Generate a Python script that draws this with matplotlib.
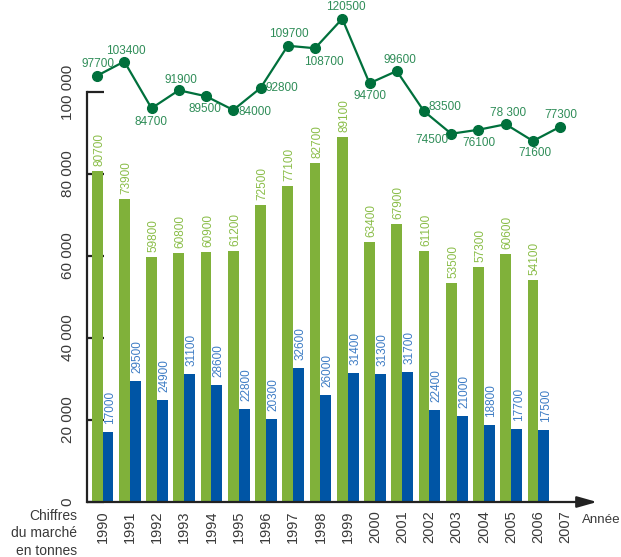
import matplotlib.pyplot as plt
import numpy as np

# values
years = [str(y) for y in range(1990, 2008)]
green_vals = [80700, 73900, 59800, 60800, 60900, 61200, 72500, 77100, 82700,
              89100, 63400, 67900, 61100, 53500, 57300, 60600, 54100]
blue_vals = [17000, 29500, 24900, 31100, 28600, 22800, 20300, 32600, 26000,
             31400, 31300, 31700, 22400, 21000, 18800, 17700, 17500]
total_vals = [97700, 103400, 84700, 91900, 89500, 84000, 92800, 109700, 108700,
              120500, 94700, 99600, 83500, 74500, 76100, 78300, 71600, 77300]
total_labels = ["97700", "103400", "84700", "91900", "89500", "84000", "92800",
                "109700", "108700", "120500", "94700", "99600", "83500",
                "74500", "76100", "78 300", "71600", "77300"]
y_ticks = [0, 20000, 40000, 60000, 80000, 100000]
y_tick_labels = ["0", "20 000", "40 000", "60 000", "80 000", "100 000"]

# label offsets for the total line (pixels)
total_offsets = [(1, 12), (2, 11), (-1, -14), (2, 10), (-1, -13), (22, -2),
                 (21, 0), (1, 12), (9, -14), (4, 12), (0, -13), (3, 11),
                 (21, 4), (-19, -6), (0, -13), (2, 11), (2, -12), (1, 12)]

GREEN = "#80b13a"
BLUE = "#0055a5"
DARK_GREEN = "#00703c"
GREEN_TXT = "#8abd48"
BLUE_TXT = "#3d7cc4"
LINE_TXT = "#2f8d58"
GREY = "#3a3a3a"

REG = ["Liberation Sans", "DejaVu Sans"]
NUM = ["Liberation Sans", "DejaVu Sans"]

fig = plt.figure(figsize=(6.21, 5.57), dpi=100)
ax = fig.add_axes([87 / 621, 55 / 557, 510 / 621, 492 / 557])

x = np.arange(len(years))
xb = np.arange(len(green_vals))
w = 0.4

ax.bar(xb - w / 2, green_vals, width=w, color=GREEN, zorder=2)
ax.bar(xb + w / 2, blue_vals, width=w, color=BLUE, zorder=2)

for i in xb:
    ax.annotate(str(green_vals[i]), (i - w / 2, green_vals[i]),
                xytext=(2, 5), textcoords="offset pixels", rotation=90,
                ha="center", va="bottom", color=GREEN_TXT, fontsize=8.5,
                family=NUM)
    ax.annotate(str(blue_vals[i]), (i + w / 2, blue_vals[i]),
                xytext=(2, 8), textcoords="offset pixels", rotation=90,
                ha="center", va="bottom", color=BLUE_TXT, fontsize=8.5,
                family=NUM)

ax.set_xlim(-0.569, 18.15)
ax.set_ylim(0, 120000)

for s in ["top", "right", "bottom"]:
    ax.spines[s].set_visible(False)
ax.spines["left"].set_bounds(0, 100000)
ax.spines["left"].set_linewidth(1.6)
ax.spines["left"].set_color("#222222")

ax.set_yticks(y_ticks)
ax.set_yticklabels(y_tick_labels, rotation=90, va="center", fontsize=11,
                   family=REG, color=GREY)
ax.tick_params(axis="y", direction="in", length=12, width=1.6,
               color="#222222", pad=9)

ax.set_xticks(x)
ax.set_xticklabels(years, rotation=90, fontsize=10.5, family=REG, color=GREY)
ax.tick_params(axis="x", length=0, pad=6)

ax.annotate("", xy=(1, 0), xytext=(0, 0), xycoords="axes fraction",
            arrowprops=dict(arrowstyle="-|>,head_length=0.6,head_width=0.17",
                            lw=1.6, color="#222222", mutation_scale=20,
                            shrinkA=0, shrinkB=0))

# total line on its own scale
ax2 = ax.twinx()
ax2.set_ylim(-72800, 124000)
ax2.axis("off")
ax2.plot(x - w / 2, total_vals, color=DARK_GREEN, lw=1.6, marker="o",
         markersize=7, clip_on=False, zorder=3)
for i, (lab, off) in enumerate(zip(total_labels, total_offsets)):
    ax2.annotate(lab, (i - w / 2, total_vals[i]), xytext=off,
                 textcoords="offset pixels", ha="center", va="center",
                 color=LINE_TXT, fontsize=8.5, family=NUM)

fig.text(77 / 621, 1 - 509 / 557, "Chiffres\ndu marché\nen tonnes",
         ha="right", va="top", fontsize=10, family=REG, color=GREY,
         linespacing=1.3)
fig.text(582 / 621, 1 - 520 / 557, "Année", ha="left", va="center",
         fontsize=9.6, family=REG, color=GREY)

fig.savefig("out.png", dpi=100)
plt.close()
